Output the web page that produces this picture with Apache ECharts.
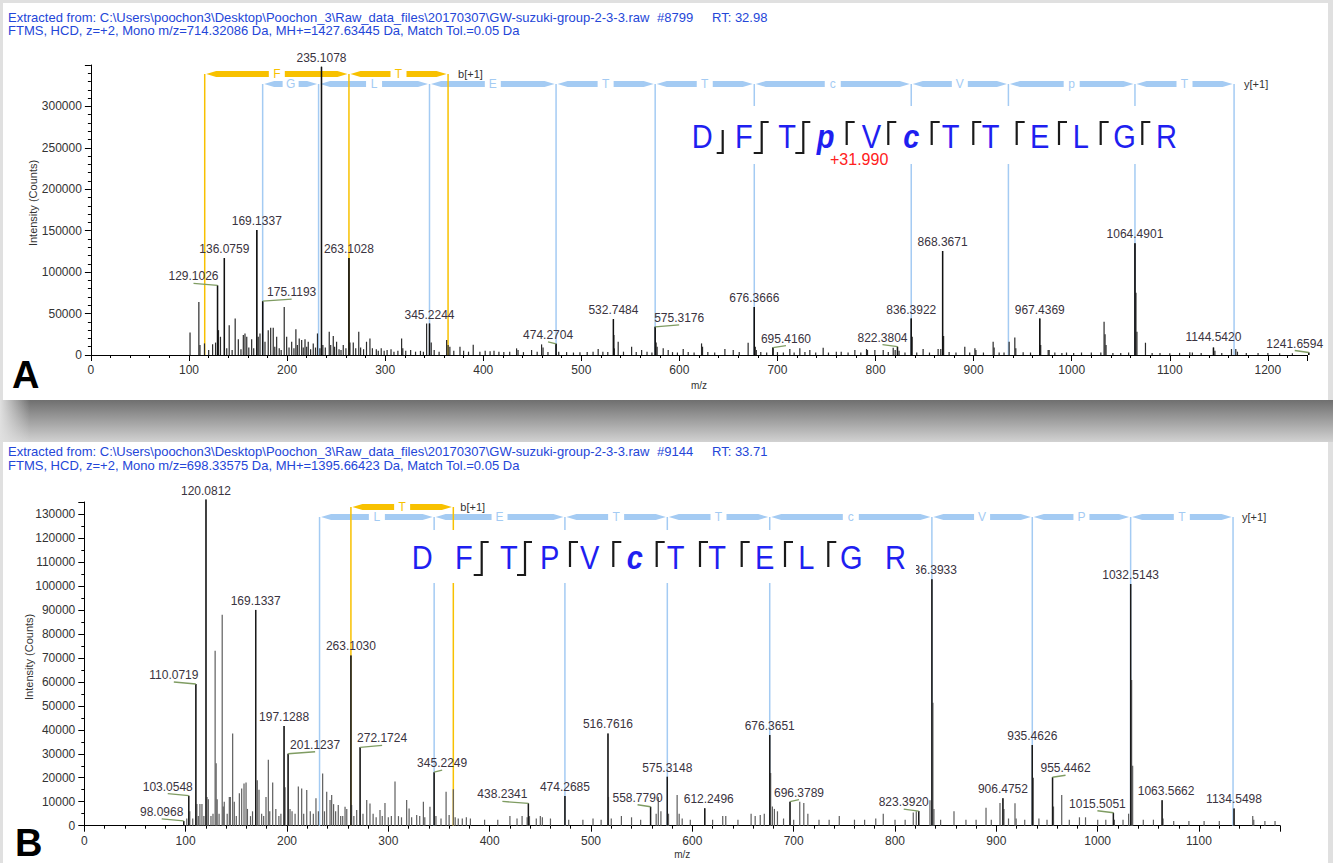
<!DOCTYPE html>
<html><head><meta charset="utf-8">
<script src="https://cdn.jsdelivr.net/npm/echarts@6/dist/echarts.min.js"></script>
<style>
html,body{margin:0;padding:0;width:1333px;height:863px;overflow:hidden;background:#e0e0e0;}
#panelA{position:absolute;left:3px;top:3px;width:1325px;height:397px;background:#fff;}
#shadow{position:absolute;left:0;top:400px;width:1333px;height:42px;background:linear-gradient(#6f6f6f,#d2d2d2);}
#shadowL{position:absolute;left:0;top:400px;width:30px;height:42px;background:linear-gradient(to right,#e0e0e0,rgba(224,224,224,0));}
#panelB{position:absolute;left:3px;top:442px;width:1325px;height:421px;background:#fff;}
#chart{position:absolute;left:0;top:0;width:1333px;height:863px;}
</style></head>
<body>
<div id="panelA"></div><div id="shadow"></div><div id="shadowL"></div><div id="panelB"></div>
<div id="chart"></div>
<script>
// ---------------- DATA ----------------
const headerA = ['Extracted from: C:\\Users\\poochon3\\Desktop\\Poochon_3\\Raw_data_files\\20170307\\GW-suzuki-group-2-3-3.raw', '#8799', 'RT: 32.98', 'FTMS, HCD, z=+2, Mono m/z=714.32086 Da, MH+=1427.63445 Da, Match Tol.=0.05 Da'];
const headerB = ['Extracted from: C:\\Users\\poochon3\\Desktop\\Poochon_3\\Raw_data_files\\20170307\\GW-suzuki-group-2-3-3.raw', '#9144', 'RT: 33.71', 'FTMS, HCD, z=+2, Mono m/z=698.33575 Da, MH+=1395.66423 Da, Match Tol.=0.05 Da'];

// [m/z, intensity] panel A
const peaksA = [[101.07,27300],[110.07,64000],[111.2,12000],[115.8,14000],[120.08,6000],[124.1,13000],[127.1,15000],[129.1026,84000],[130.1,30000],[132.1,22000],[136.0759,117000],[138.5,8000],[141.0,36000],[144,6000],[147.1,44000],[150.3,19000],[153,7000],[155.4,24000],[157.1,26000],[158.9,22000],[161,9000],[163.9,19000],[166,8000],[169.1337,151000],[170.6,22000],[172.4,26000],[175.1193,65000],[177.5,16000],[180.8,30000],[183.3,33000],[185.9,33000],[187.5,10000],[189.4,22000],[192,8000],[194,6000],[197.1,58000],[199.6,22000],[202,9000],[204.7,16000],[207,8000],[209.0,31000],[210.5,12000],[212.4,20000],[214.9,18000],[216.5,9000],[218.3,19000],[220,10000],[221.6,16000],[224,7000],[226.7,14000],[229,9000],[231.0,26000],[233.5,8000],[235.1078,348000],[236.5,12000],[239,9000],[243.0,28000],[244.5,12000],[247.1,23000],[248.5,10000],[250.5,16000],[253,7000],[255,6000],[257.3,12000],[260,8000],[263.1028,117000],[264.1,15000],[267.5,15000],[270,8000],[273.1,28000],[275,9000],[278,7000],[281.0,16000],[284.5,20000],[287,8000],[291,7000],[293,5000],[296,8000],[299,5000],[302,6000],[306,7000],[309,4000],[313,5000],[316.8,20000],[318,8000],[321,5000],[326,6000],[331,4000],[336,5000],[339,4000],[342.3,38000],[345.2244,38000],[347.0,15000],[350,6000],[355,4000],[362.7,18000],[364.2,12000],[366,10000],[370,5000],[376.3,10000],[380,5000],[385,4000],[389.8,12500],[396.6,4000],[402,5000],[407,4500],[411,5000],[416,4000],[421,3500],[427,4000],[434,8000],[435.5,6000],[441,3500],[449.3,6000],[455,4000],[459.5,12800],[461,9000],[466,3500],[474.2704,13500],[477,4000],[485,3500],[492,3000],[498.6,3200],[506,3500],[512,4000],[517.2,7200],[522,4000],[527,3500],[532.7484,43300],[533.25,24000],[533.75,8000],[537.6,16000],[543,4000],[551.3,10000],[556,3500],[561.5,6000],[567,4000],[572,3000],[575.3176,34000],[576.3,15000],[577.3,10000],[583.5,8000],[588.6,6000],[593,3500],[598,3000],[603.9,7200],[609,3500],[615,3000],[622.6,14000],[623.6,10000],[629,3500],[636,3000],[646.4,7200],[654.9,6000],[661,3500],[670.1,14800],[676.3666,58000],[677.4,10000],[678.4,6000],[683,3500],[689,3000],[695.416,9000],[700,3500],[706,3000],[712.6,7200],[717,3000],[722.8,8000],[728,3500],[733,6000],[739,3000],[746.6,8800],[752,3000],[760,4000],[765,4000],[772,3000],[778.9,6000],[785,3000],[790.8,7200],[791.8,6000],[799.3,6000],[807.8,6000],[813,3500],[818,8800],[820,6000],[822.3804,10000],[824,5000],[830,3000],[836.3922,44000],[837.4,22000],[842,3000],[848.5,7200],[855,3000],[863.8,7200],[866.5,7200],[868.3671,125500],[869.4,23000],[875,3500],[882,3000],[891,10000],[896,3000],[901.3,8000],[902.3,6000],[910,3000],[919.9,16000],[920.9,9000],[926,3000],[931,3000],[936.2,16000],[942,21000],[943,8000],[950.5,3200],[958,3000],[967.4369,44000],[968.4,12000],[976,6000],[977,6000],[982.8,3000],[990,2500],[994.7,3000],[1002,2500],[1010,3000],[1020,3000],[1029.7,3000],[1033,40000],[1034,25000],[1035,12000],[1042,2500],[1050,2500],[1058,3000],[1064.4901,135000],[1065.5,75000],[1066.5,28000],[1075.2,14800],[1082,2500],[1090,2500],[1100,2000],[1110,2500],[1120.4,3200],[1123,3000],[1132,2500],[1144.542,9000],[1146,5000],[1153,2500],[1162.9,7200],[1167.3,7200],[1169,4000],[1178,2500],[1190,2500],[1200,2500],[1212,2000],[1225,2000],[1241.6594,3000]];

// [m/z, intensity] panel B
const peaksB = [[98.0968,2000],[101.1,3000],[103.0548,12500],[104.1,6000],[107,3000],[110.0719,59100],[111.1,9000],[112.5,4000],[114.1,9000],[116.1,9000],[118,4000],[120.0812,136000],[121.1,12000],[122.4,11000],[125,4000],[127,5000],[129.1,73000],[130.1,26000],[131.1,11000],[133,5000],[136.08,88000],[137.1,8000],[138.1,10000],[141,5000],[143.1,12000],[144.1,12000],[146.4,38500],[148,10000],[150,4000],[153.0,13500],[155.3,15500],[157.6,17600],[159.6,18000],[161,7000],[164,4000],[166,6000],[169.1337,90000],[170.7,19000],[172.4,15000],[175,5000],[177,4000],[179.3,12000],[181.6,27500],[183,6000],[185.9,18000],[189,7000],[192,4000],[194,5000],[197.1288,41600],[198.1,16000],[201.1237,30000],[203,7000],[205,6000],[208,5000],[211.2,16300],[214.5,15500],[216.5,5000],[219.5,14900],[223,6000],[226,5000],[228.6,11400],[231,6000],[235.2,21800],[237,6000],[239.2,14200],[242.5,10700],[244.1,12800],[246,9000],[248,6000],[250.6,8600],[253,4000],[255,4000],[257.3,7900],[259,7000],[263.103,71000],[263.8,8600],[266,4000],[268.8,6500],[272.1724,32700],[275,5000],[278.7,10700],[281.9,9300],[285,5000],[288,3500],[291.8,6500],[294,4000],[296.7,9500],[300,3500],[303,4000],[306.6,18400],[310,4000],[313,3500],[318.1,10700],[320.5,7200],[323,3500],[328,4500],[331,4000],[334.6,10000],[336,3500],[341.1,7900],[345.2249,22300],[347,4000],[352,3000],[357,14200],[360,4500],[364.15,15200],[366,3500],[369,3000],[373,3000],[377,3500],[381,3000],[395,2500],[408,2500],[420,4000],[427,3000],[432,4000],[437,3500],[438.2341,9300],[439.3,4000],[446,3000],[450,4000],[452,3500],[460,3000],[474.2685,12400],[478,2500],[492,2500],[502,3000],[510,2500],[516.7616,38500],[517.26,12000],[520,3000],[530,4000],[540,3500],[549,2500],[558.779,7900],[564.3,5000],[566.4,12000],[569,6000],[575.3148,20400],[576.5,5000],[585,12800],[587,5000],[590,3000],[598,2500],[612.2496,7300],[620,2500],[630,4000],[633,4000],[645,2500],[658,5000],[662,4000],[667,4500],[671,5000],[676.3651,37800],[677.3,22000],[679,8000],[681,7000],[684,6000],[690,3000],[696.3789,10000],[700,2500],[706,10000],[710,9500],[714,5000],[725,2500],[735,2500],[745,4000],[760,2500],[770,2500],[781,3000],[788.4,5000],[800,2500],[810,2500],[818,5500],[821,6000],[823.392,6100],[834.5,10600],[836.3933,102800],[837.4,51300],[838.4,7000],[845,2500],[858.2,6000],[870,2500],[880,2500],[889.8,7500],[895,2500],[903.6,9500],[906.4752,11400],[907.5,7000],[912,3000],[918.4,9400],[919.5,3000],[928,2500],[935.4626,33700],[936.5,20000],[942,3000],[950,2500],[955.4462,20200],[956.4,8000],[964.5,12800],[972,2500],[982,3500],[988,3500],[1000,2500],[1008,2500],[1015.5051,5400],[1016.5,2500],[1025,2500],[1030.5,5000],[1032.5143,100800],[1033.5,60800],[1034.5,25000],[1045,2500],[1055,2500],[1063.5662,10600],[1064.5,3000],[1075,2000],[1090,2000],[1105,2000],[1120,2000],[1134.5498,7200],[1153,4000],[1154,2500],[1165,2000],[1175,2000]];

const labelsA = ['129.1026','136.0759','169.1337','175.1193','235.1078','263.1028','345.2244','474.2704','532.7484','575.3176','676.3666','695.4160','822.3804','836.3922','868.3671','967.4369','1064.4901','1144.5420','1241.6594'];
const labelsB = ['98.0968','103.0548','110.0719','120.0812','169.1337','197.1288','201.1237','263.1030','272.1724','345.2249','438.2341','474.2685','516.7616','558.7790','575.3148','612.2496','676.3651','696.3789','823.3920','836.3933','906.4752','935.4626','955.4462','1015.5051','1032.5143','1063.5662','1134.5498'];

// fragment ions
const bIonsA = [116.0342, 263.1026, 364.1503];
const bResA = ['F','T'];
const yIonsA = [175.1190, 232.1404, 345.2245, 474.2671, 575.3148, 676.3625, 836.3931, 935.4615, 1064.4925, 1165.5402];
const yResA = ['G','L','E','T','T','c','V','p','T'];
const bIonsB = [263.1026, 364.1503];
const bResB = ['T'];
const yIonsB = [232.1404, 345.2245, 474.2671, 575.3148, 676.3625, 836.3931, 935.4615, 1032.5143, 1133.5620];
const yResB = ['L','E','T','T','c','V','P','T'];

// peptide sequence shown in each panel (residue, modified?)
const seqA = ['D','F','T','p','V','c','T','T','E','L','G','R'];
const modA = [false,false,false,true,false,true,false,false,false,false,false,false];
const seqB = ['D','F','T','P','V','c','T','T','E','L','G','R'];
const modB = [false,false,false,false,false,true,false,false,false,false,false,false];
const modTextA = '+31.990';

// ---------------- LAYOUT / STYLE ----------------
const FONT = '"Liberation Sans", Arial, sans-serif';
const labelShiftA = {'129.1026':[-24,0],'175.1193':[29,0],'474.2704':[-8,0],'575.3176':[24,0],'695.4160':[13,0],'822.3804':[-15,0],'1144.5420':[0,-2],'1241.6594':[-14,0]};
const labelShiftB = {'98.0968':[-22,0],'103.0548':[-21,0],'110.0719':[-22,0],'201.1237':[27,0],'272.1724':[22,0],'345.2249':[8,0],'438.2341':[-26,0],'558.7790':[-13,0],'612.2496':[4,0],'696.3789':[9,0],'823.3920':[-15,0],'955.4462':[13,0],'1015.5051':[-16,0],'1063.5662':[4,0]};
const seqXA = [691.7,735,778.3,816.7,861.7,903.3,941.7,981.7,1030,1072.7,1113.3,1156];
const seqXB = [411.7,455,500,540,580,626.7,666.7,708.3,755,798.3,840,885];
const bracketsA = [['b',722.7],['by',761.7],['by',803.3],['y',846.7],['y',888.3],['y',931.7],['y',973.3],['y',1016.7],['y',1059],['y',1100.7],['y',1142.3]];
const bracketsB = [['by',481.7],['by',525],['y',570],['y',613.3],['y',656.7],['y',700],['y',741.7],['y',785],['y',828.3]];

const YEL = '#f8c100', BLU = '#a4cbf3', SEQ = '#1f1ff0', LBL = '#3a3340', GRN = '#7f9c62', HDR = '#2446d8';

function peakSeries(gi, peaks, color, width) {
  return {type:'custom', xAxisIndex:gi, yAxisIndex:gi, z:2, silent:true, clip:false,
    data: peaks, encode:{x:0, y:1},
    renderItem: function(params, api) {
      const t = api.coord([api.value(0), api.value(1)]);
      const b = api.coord([api.value(0), 0]);
      return {type:'line', shape:{x1:t[0], y1:t[1], x2:b[0], y2:b[1]}, style:{stroke:color, lineWidth:width}};
    }};
}
function labelSeries(gi, peaks, labels, shifts, stemColor) {
  const data = labels.map(function(s){
    const m = parseFloat(s);
    const pk = peaks.find(function(p){ return Math.abs(p[0]-m) < 1e-6; });
    return [m, pk ? pk[1] : 0];
  });
  return {type:'custom', xAxisIndex:gi, yAxisIndex:gi, z:3, silent:true, clip:false,
    data: data, encode:{x:0, y:1},
    renderItem: function(params, api) {
      const s = labels[params.dataIndex];
      const t = api.coord([api.value(0), api.value(1)]);
      const b = api.coord([api.value(0), 0]);
      const sh = shifts[s] || [0,0];
      const lx = t[0] + sh[0], ly = t[1] - 3 + sh[1];
      const ch = [{type:'line', shape:{x1:t[0], y1:t[1], x2:b[0], y2:b[1]}, style:{stroke:stemColor, lineWidth:1.4}},
        {type:'text', style:{text:s, x:lx, y:ly, fill:LBL, fontSize:12, fontFamily:FONT, align:'center', verticalAlign:'bottom', textAlign:'center', textVerticalAlign:'bottom'}}];
      if (Math.abs(sh[0]) > 6) {
        ch.push({type:'line', shape:{x1:lx, y1:ly+1, x2:t[0], y2:t[1]}, style:{stroke:GRN, lineWidth:1.3}});
      }
      return {type:'group', children:ch};
    }};
}
function fragmentSeries(gi, ions, res, color, barOffset, endLabel, endGap) {
  return {type:'custom', xAxisIndex:gi, yAxisIndex:gi, z:1, silent:true, clip:false,
    data: ions.map(function(m){ return [m, 0]; }), encode:{x:0, y:1},
    renderItem: function(params, api) {
      const i = params.dataIndex;
      const yb = params.coordSys.y + barOffset;
      const p = api.coord([ions[i], 0]);
      const ch = [{type:'line', shape:{x1:p[0], y1:yb, x2:p[0], y2:p[1]}, style:{stroke:color, lineWidth:1.5}}];
      if (i < ions.length - 1) {
        const q = api.coord([ions[i+1], 0]);
        const x1 = p[0] + 1.5, x2 = q[0] - 1.5, xm = (x1 + x2) / 2, g = 8, h = 3, a = 10;
        ch.push({type:'polygon', shape:{points:[[x1,yb],[x1+a,yb-h],[xm-g,yb-h],[xm-g,yb+h],[x1+a,yb+h]]}, style:{fill:color}});
        ch.push({type:'polygon', shape:{points:[[x2,yb],[x2-a,yb+h],[xm+g,yb+h],[xm+g,yb-h],[x2-a,yb-h]]}, style:{fill:color}});
        ch.push({type:'text', style:{text:res[i], x:xm, y:yb, fill:color, fontSize:12, fontFamily:FONT, align:'center', verticalAlign:'middle', textAlign:'center', textVerticalAlign:'middle'}});
      } else {
        ch.push({type:'text', style:{text:endLabel, x:p[0]+endGap, y:yb, fill:'#333', fontSize:11, fontFamily:FONT, align:'left', verticalAlign:'middle', textAlign:'left', textVerticalAlign:'middle'}});
      }
      return {type:'group', children:ch};
    }};
}
function plain(v) { return String(v); }
function xAx(gi, max, nameGap) {
  return {type:'value', gridIndex:gi, min:0, max:max, interval:100,
    name:'m/z', nameLocation:'middle', nameGap:nameGap, nameMoveOverlap:false,
    nameTextStyle:{fontSize:10, color:'#333', fontFamily:FONT},
    axisLine:{show:true, onZero:false, lineStyle:{color:'#000', width:1}},
    axisTick:{show:true, length:6, lineStyle:{color:'#000'}},
    minorTick:{show:true, splitNumber:5, length:3, lineStyle:{color:'#000'}},
    axisLabel:{fontSize:12, color:'#333', margin:9, fontFamily:FONT, showMaxLabel:false, formatter:plain},
    splitLine:{show:false}, minorSplitLine:{show:false}};
}
function yAx(gi, max, interval, minorSplit, nameGap) {
  return {type:'value', gridIndex:gi, min:0, max:max, interval:interval,
    name:'Intensity (Counts)', nameLocation:'middle', nameGap:nameGap, nameMoveOverlap:false,
    nameTextStyle:{fontSize:11, color:'#333', fontFamily:FONT, padding:[0,0,0,14]},
    axisLine:{show:true, lineStyle:{color:'#000', width:1}},
    axisTick:{show:true, length:6, lineStyle:{color:'#000'}},
    minorTick:{show:true, splitNumber:minorSplit, length:3, lineStyle:{color:'#000'}},
    axisLabel:{fontSize:12, color:'#333', margin:9, fontFamily:FONT, showMaxLabel:false, formatter:plain},
    splitLine:{show:false}, minorSplitLine:{show:false}};
}
function txt(text, x, y, size, color, extra) {
  const st = Object.assign({text:text, fill:color, fontSize:size, fontFamily:FONT, textAlign:'left', textVerticalAlign:'middle'}, extra || {});
  return {type:'text', z:100, x:x, y:y, style:st, silent:true};
}
function bracket(kind, x, y0, h, hy) {
  let pts;
  if (kind === 'y') pts = [[x+8,y0],[x,y0],[x,y0+hy]];
  else if (kind === 'b') pts = [[x,y0+8],[x,y0+h],[x-6,y0+h]];
  else pts = [[x+7,y0],[x,y0],[x,y0+h],[x-8,y0+h]];
  return {type:'polyline', z:101, silent:true, shape:{points:pts}, style:{stroke:'#1a1a1a', lineWidth:2.2, fill:null}};
}
function seqElems(seq, mods, xs, ymid, size) {
  return seq.map(function(r, i){
    return {type:'text', z:101, silent:true, x:xs[i], y:ymid, scaleX:0.88,
      style:{text:r, fill:SEQ, fontSize:size, fontFamily:FONT, fontWeight:mods[i]?'bold':'normal', fontStyle:mods[i]?'italic':'normal', textAlign:'left', textVerticalAlign:'middle'}};
  });
}

const graphics = [].concat(
  [txt(headerA[0], 8, 17, 13, HDR), txt(headerA[1], 657, 17, 13, HDR), txt(headerA[2], 712, 17, 13, HDR), txt(headerA[3], 8, 30, 13, HDR),
   txt(headerB[0], 8, 451, 13, HDR), txt(headerB[1], 657, 451, 13, HDR), txt(headerB[2], 712, 451, 13, HDR), txt(headerB[3], 8, 465, 13, HDR),
   txt('A', 12, 375, 38, '#000', {fontWeight:'bold'}), txt('B', 15, 843, 38, '#000', {fontWeight:'bold'}),
   {type:'rect', z:99, silent:true, shape:{x:686, y:106, width:498, height:58}, style:{fill:'#fff'}},
   {type:'rect', z:99, silent:true, shape:{x:405, y:530, width:511, height:53}, style:{fill:'#fff'}}],
  seqElems(seqA, modA, seqXA, 137, 33),
  seqElems(seqB, modB, seqXB, 558, 33),
  bracketsA.map(function(b){ return bracket(b[0], b[1], 122, 31, 23); }),
  bracketsB.map(function(b){ return bracket(b[0], b[1], 542, 33, 25); }),
  [txt(modTextA, 830, 159, 16, '#ff2020')]
);

const chart = echarts.init(document.getElementById('chart'), null, {renderer:'svg'});
chart.setOption({
  backgroundColor:'transparent',
  animation:false,
  grid:[
    {left:90.9, top:65, width:1216.2, height:290, outerBoundsMode:'none', containLabel:false},
    {left:84.3, top:502, width:1195.8, height:323.7, outerBoundsMode:'none', containLabel:false}
  ],
  xAxis:[xAx(0, 1240, 25), xAx(1, 1180, 24)],
  yAxis:[yAx(0, 350000, 50000, 5, 52), yAx(1, 135000, 10000, 2, 50)],
  graphic:{elements:graphics},
  series:[
    fragmentSeries(0, yIonsA, yResA, BLU, 19, 'y[+1]', 10),
    fragmentSeries(0, bIonsA, bResA, YEL, 9, 'b[+1]', 10),
    peakSeries(0, peaksA, '#2a2a2a', 1.2),
    labelSeries(0, peaksA, labelsA, labelShiftA, '#111'),
    fragmentSeries(1, yIonsB, yResB, BLU, 15, 'y[+1]', 9),
    fragmentSeries(1, bIonsB, bResB, YEL, 5, 'b[+1]', 7),
    peakSeries(1, peaksB, '#5e5e5e', 1.2),
    labelSeries(1, peaksB, labelsB, labelShiftB, '#1a1a1a')
  ]
});
</script>
</body></html>
